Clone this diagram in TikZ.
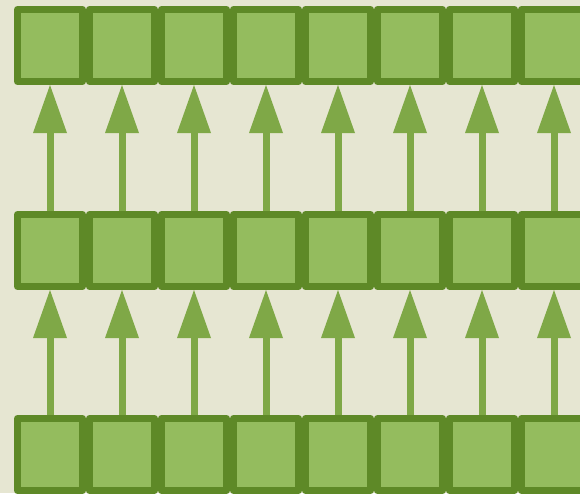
\documentclass[tikz,border=0pt]{standalone}
\usepackage{xcolor}
\usepackage{tikz}
\usetikzlibrary{arrows.meta}

\definecolor{paper}{HTML}{E6E6D2}
\definecolor{cellfill}{HTML}{94BC5E}
\definecolor{celledge}{HTML}{5E8927}
\definecolor{linkcol}{HTML}{7FA847}

\tikzset{
  cell/.style={draw=celledge,fill=cellfill,line width=1.75mm,line join=round,
    minimum width=16.25mm,minimum height=18mm,inner sep=0pt},
  link/.style={linkcol,line width=1.75mm,
    -{Triangle[width=8.5mm,length=12mm,line width=0pt]}}
}

\begin{document}
\begin{tikzpicture}[x=0.25mm,y=-0.25mm]
  % canvas, 1 unit = 1 px of the layout
  \path[use as bounding box,fill=paper] (0,0) rectangle (580,493);
  \clip (0,0) rectangle (580,493);
  % three layers of cells
  \foreach \lyr/\y in {top/45.5, mid/250.5, bot/454.5}{
    \foreach \i in {0,...,7}{
      \node[cell] (\lyr-\i) at (50+72*\i,\y) {};
    }
  }
  % links from each cell to the one above it
  \foreach \i in {0,...,7}{
    \draw[link] (bot-\i.north) -- (mid-\i.south);
    \draw[link] (mid-\i.north) -- (top-\i.south);
  }
\end{tikzpicture}
\end{document}
